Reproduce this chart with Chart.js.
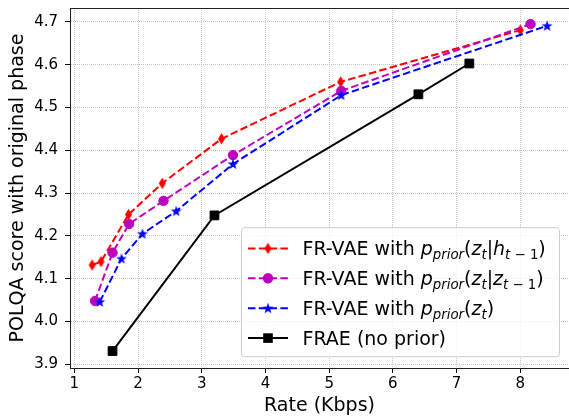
<!DOCTYPE html>
<html>
<head>
<meta charset="utf-8">
<script src="https://cdn.jsdelivr.net/npm/chart.js@4/dist/chart.umd.min.js"></script>
<style>html,body{margin:0;padding:0;background:#fff}</style>
</head>
<body>
<canvas id="chart" width="569" height="417"></canvas>
<script>
// rate (Kbps) and POLQA score, one pair of arrays per model
var rateH = [1.28, 1.42, 1.85, 2.38, 3.31, 5.18, 8.00];
var polqaH = [4.132, 4.140, 4.250, 4.323, 4.427, 4.560, 4.681];
var rateZ = [1.325, 1.60, 1.86, 2.40, 3.49, 5.19, 8.16];
var polqaZ = [4.048, 4.161, 4.228, 4.282, 4.389, 4.539, 4.695];
var rateP = [1.40, 1.74, 2.07, 2.60, 3.49, 5.19, 8.42];
var polqaP = [4.046, 4.147, 4.205, 4.258, 4.368, 4.529, 4.691];
var rateF = [1.60, 3.20, 6.40, 7.20];
var polqaF = [3.931, 4.248, 4.531, 4.603];

var xTicks = [1, 2, 3, 4, 5, 6, 7, 8];
var yTicks = [3.9, 4.0, 4.1, 4.2, 4.3, 4.4, 4.5, 4.6, 4.7];

// legend labels, split in pieces: n = normal, i = italic, si/sn = subscript
var labelH = [["FR-VAE with ", "n"], ["p", "i"], ["prior", "si"], ["(", "n"], ["z", "i"], ["t", "si"], ["|", "n"], ["h", "i"], ["t", "si"], [" \u2212 1", "sn"], [")", "n"]];
var labelZ = [["FR-VAE with ", "n"], ["p", "i"], ["prior", "si"], ["(", "n"], ["z", "i"], ["t", "si"], ["|", "n"], ["z", "i"], ["t", "si"], [" \u2212 1", "sn"], [")", "n"]];
var labelP = [["FR-VAE with ", "n"], ["p", "i"], ["prior", "si"], ["(", "n"], ["z", "i"], ["t", "si"], [")", "n"]];
var labelF = [["FRAE (no prior)", "n"]];

function pts(xs, ys) {
  return xs.map(function (x, i) { return {x: x, y: ys[i]}; });
}

function diamond(color) {
  var c = document.createElement('canvas');
  c.width = 9; c.height = 13;
  var g = c.getContext('2d');
  g.fillStyle = color;
  g.beginPath();
  g.moveTo(4.5, 0.8); g.lineTo(8, 6.5); g.lineTo(4.5, 12.2); g.lineTo(1, 6.5);
  g.closePath(); g.fill();
  return c;
}

function star(color) {
  var c = document.createElement('canvas');
  c.width = 12; c.height = 12;
  var g = c.getContext('2d');
  g.fillStyle = color;
  g.beginPath();
  for (var i = 0; i < 10; i++) {
    var r = i % 2 ? 2.3 : 5.8;
    var a = -Math.PI / 2 + i * Math.PI / 5;
    var px = 6 + r * Math.cos(a), py = 6.4 + r * Math.sin(a);
    if (i == 0) g.moveTo(px, py); else g.lineTo(px, py);
  }
  g.closePath(); g.fill();
  return c;
}

var redMark = diamond('#ff0000');
var blueMark = star('#0000ff');

var fam = '"DejaVu Sans"';
var fonts = {
  n: '19px ' + fam,
  i: 'italic 19px ' + fam,
  si: 'italic 13.3px ' + fam,
  sn: '13.3px ' + fam
};

function drawRich(ctx, segs, x, y) {
  ctx.fillStyle = '#000';
  ctx.textBaseline = 'alphabetic';
  ctx.textAlign = 'left';
  segs.forEach(function (s) {
    ctx.font = fonts[s[1]];
    var dy = s[1].charAt(0) == 's' ? 4 : 0;
    ctx.fillText(s[0], x, y + dy);
    x += ctx.measureText(s[0]).width;
  });
}

var legendRows = [
  {label: labelH, color: '#ff0000', dash: [7.5, 3.3], mark: 'img', img: redMark},
  {label: labelZ, color: '#bf00bf', dash: [7.5, 3.3], mark: 'circle'},
  {label: labelP, color: '#0000ff', dash: [7.5, 3.3], mark: 'img', img: blueMark},
  {label: labelF, color: '#000000', dash: [], mark: 'rect'}
];

var framePlugin = {
  id: 'frame',
  afterDraw: function (chart) {
    var ctx = chart.ctx, a = chart.chartArea;
    ctx.save();
    // top spine
    ctx.strokeStyle = '#222';
    ctx.lineWidth = 1;
    ctx.beginPath();
    ctx.moveTo(a.left, a.top + 0.5);
    ctx.lineTo(a.right, a.top + 0.5);
    ctx.stroke();

    // legend box, lower right
    var right = a.right - 9.5, bottom = a.bottom - 11.3;
    var w = 318, h = 129;
    var l = right - w, t = bottom - h, rad = 3;
    ctx.beginPath();
    ctx.moveTo(l + rad, t);
    ctx.arcTo(right, t, right, bottom, rad);
    ctx.arcTo(right, bottom, l, bottom, rad);
    ctx.arcTo(l, bottom, l, t, rad);
    ctx.arcTo(l, t, right, t, rad);
    ctx.closePath();
    ctx.fillStyle = 'rgba(255,255,255,0.8)';
    ctx.fill();
    ctx.strokeStyle = '#cccccc';
    ctx.stroke();

    legendRows.forEach(function (row, i) {
      var y = t + 20.7 + i * 29.9;
      ctx.strokeStyle = row.color;
      ctx.lineWidth = 2;
      ctx.setLineDash(row.dash);
      ctx.beginPath();
      ctx.moveTo(l + 6.5, y);
      ctx.lineTo(l + 46.5, y);
      ctx.stroke();
      ctx.setLineDash([]);
      var mx = l + 26.5;
      ctx.fillStyle = row.color;
      if (row.mark == 'img') {
        ctx.drawImage(row.img, mx - row.img.width / 2, y - row.img.height / 2);
      } else if (row.mark == 'circle') {
        ctx.beginPath(); ctx.arc(mx, y, 5.2, 0, Math.PI * 2); ctx.fill();
      } else {
        ctx.fillRect(mx - 4.8, y - 4.8, 9.6, 9.6);
      }
      drawRich(ctx, row.label, l + 61, y + 6.8);
    });
    ctx.restore();
  }
};

function noPad(s) {
  s.paddingTop = 0; s.paddingBottom = 0; s.paddingLeft = 0; s.paddingRight = 0;
}

var ctx = document.getElementById('chart');
var chart = new Chart(ctx, {
  type: 'line',
  data: {
    datasets: [
      {
        data: pts(rateH, polqaH),
        borderColor: '#ff0000', backgroundColor: '#ff0000',
        borderWidth: 2, borderDash: [7.5, 3.3],
        pointStyle: redMark, pointRadius: 5,
        order: 3
      },
      {
        data: pts(rateZ, polqaZ),
        borderColor: '#bf00bf', backgroundColor: '#bf00bf',
        borderWidth: 2, borderDash: [7.5, 3.3],
        pointStyle: 'circle', pointRadius: 4.7, pointBorderWidth: 1,
        order: 2
      },
      {
        data: pts(rateP, polqaP),
        borderColor: '#0000ff', backgroundColor: '#0000ff',
        borderWidth: 2, borderDash: [7.5, 3.3],
        pointStyle: blueMark, pointRadius: 5,
        order: 1
      },
      {
        data: pts(rateF, polqaF),
        borderColor: '#000000', backgroundColor: '#000000',
        borderWidth: 2,
        pointStyle: 'rect', pointRadius: 6.2, pointBorderWidth: 1,
        order: 0
      }
    ]
  },
  options: {
    responsive: false,
    animation: false,
    devicePixelRatio: 1,
    layout: {autoPadding: false, padding: {top: 8, right: 0, bottom: 0, left: 0}},
    plugins: {legend: {display: false}, tooltip: {enabled: false}},
    elements: {line: {tension: 0, fill: false}},
    scales: {
      x: {
        type: 'linear',
        min: 0.9325, max: 8.764,
        afterBuildTicks: function (s) { s.ticks = xTicks.map(function (v) { return {value: v}; }); },
        afterFit: function (s) { s.height = 49; noPad(s); },
        ticks: {
          font: {family: 'DejaVu Sans', size: 15}, color: '#000',
          padding: 2, maxRotation: 0, autoSkip: false,
          callback: function (v) { return String(v); }
        },
        grid: {color: '#c4c4c4', lineWidth: 1, tickColor: '#000', tickLength: 5, tickWidth: 1},
        border: {color: '#222', width: 1, dash: [1, 1]},
        title: {
          display: true, text: 'Rate (Kbps)', color: '#000',
          font: {family: 'DejaVu Sans', size: 19}, padding: {top: 0, bottom: 0}
        }
      },
      y: {
        type: 'linear',
        min: 3.8914, max: 4.7327,
        afterBuildTicks: function (s) { s.ticks = yTicks.map(function (v) { return {value: v}; }); },
        afterFit: function (s) { s.width = 70; noPad(s); },
        ticks: {
          font: {family: 'DejaVu Sans', size: 15}, color: '#000',
          padding: 7, autoSkip: false,
          callback: function (v) { return v.toFixed(1); }
        },
        grid: {color: '#c4c4c4', lineWidth: 1, tickColor: '#000', tickLength: 5, tickWidth: 1},
        border: {color: '#222', width: 1, dash: [1, 1]},
        title: {
          display: true, text: 'POLQA score with original phase', color: '#000',
          font: {family: 'DejaVu Sans', size: 19}, padding: {top: 7, bottom: 0}
        }
      }
    }
  },
  plugins: [framePlugin]
});
</script>
</body>
</html>
